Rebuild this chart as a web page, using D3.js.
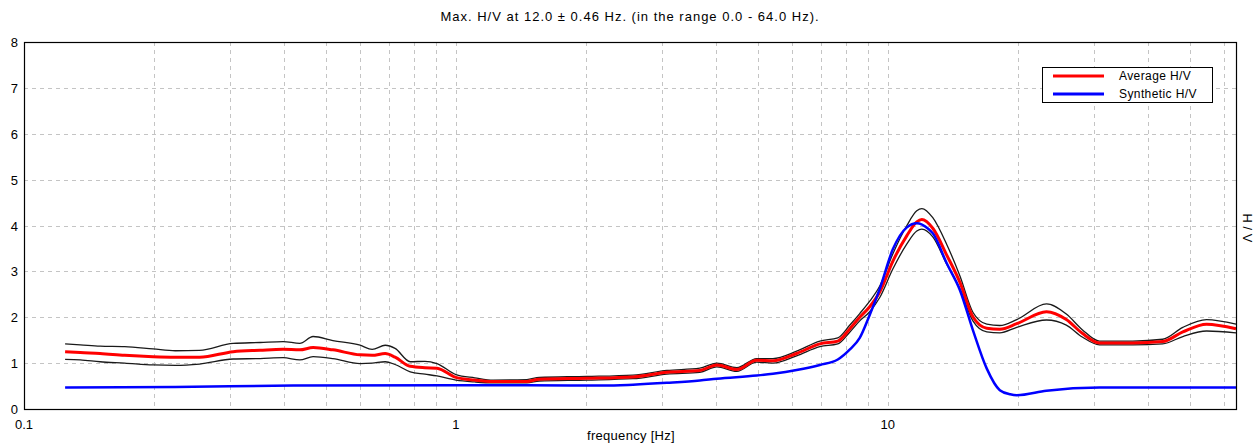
<!DOCTYPE html>
<html>
<head>
<meta charset="utf-8">
<script src="https://cdn.jsdelivr.net/npm/d3@7"></script>
<style>
  html, body { margin: 0; padding: 0; background: #fff; }
  svg { display: block; font-family: "Liberation Sans", Arial, sans-serif; }
</style>
</head>
<body>
<svg id="chart" width="1260" height="446"></svg>
<script>
// H/V spectral ratio curves
const freqs   = [0.1245, 0.135, 0.150, 0.171, 0.199, 0.224, 0.255, 0.305, 0.352, 0.398, 0.435, 0.467, 0.519, 0.600, 0.640, 0.686, 0.723, 0.784, 0.848, 0.904, 1.0, 1.106, 1.22, 1.46, 1.56, 2.01, 2.57, 3.08, 3.67, 4.02, 4.47, 4.97, 5.42, 6.15, 6.96, 7.66, 8.17, 8.61, 9.08, 9.58, 10.27, 11.07, 11.67, 11.99, 12.71, 13.70, 14.69, 15.74, 16.95, 18.17, 19.89, 23.3, 25.9, 28.2, 30.9, 36.9, 43.3, 48.2, 54.7, 64.0];
const avgHV   = [1.25, 1.23, 1.21, 1.17, 1.14, 1.13, 1.13, 1.25, 1.28, 1.30, 1.29, 1.34, 1.29, 1.18, 1.17, 1.21, 1.13, 0.93, 0.90, 0.89, 0.69, 0.63, 0.60, 0.60, 0.65, 0.67, 0.70, 0.80, 0.84, 0.96, 0.86, 1.06, 1.05, 1.21, 1.42, 1.48, 1.75, 2.00, 2.23, 2.55, 3.22, 3.78, 4.08, 4.13, 3.94, 3.35, 2.76, 2.01, 1.76, 1.74, 1.86, 2.12, 1.95, 1.65, 1.44, 1.44, 1.47, 1.68, 1.85, 1.75];
const upperHV = [1.42, 1.40, 1.37, 1.36, 1.31, 1.27, 1.28, 1.43, 1.45, 1.47, 1.43, 1.58, 1.49, 1.39, 1.30, 1.39, 1.32, 1.03, 1.04, 0.99, 0.75, 0.68, 0.63, 0.64, 0.69, 0.71, 0.74, 0.84, 0.89, 1.00, 0.90, 1.10, 1.10, 1.26, 1.48, 1.55, 1.83, 2.08, 2.35, 2.68, 3.38, 4.00, 4.32, 4.37, 4.17, 3.58, 2.90, 2.11, 1.85, 1.82, 1.95, 2.29, 2.07, 1.73, 1.48, 1.48, 1.52, 1.78, 1.95, 1.85];
const lowerHV = [1.08, 1.07, 1.03, 1.00, 0.96, 0.95, 0.98, 1.09, 1.10, 1.12, 1.07, 1.14, 1.10, 0.99, 1.00, 1.03, 0.97, 0.81, 0.76, 0.72, 0.63, 0.59, 0.57, 0.57, 0.61, 0.63, 0.66, 0.76, 0.80, 0.92, 0.82, 1.02, 1.00, 1.16, 1.36, 1.42, 1.68, 1.92, 2.12, 2.43, 3.05, 3.60, 3.88, 3.92, 3.75, 3.15, 2.62, 1.92, 1.68, 1.66, 1.78, 1.94, 1.83, 1.57, 1.40, 1.40, 1.42, 1.58, 1.70, 1.66];

const synthFreqs = [0.1245, 0.224, 0.42, 1.0, 1.46, 2.2, 2.57, 3.08, 3.67, 4.02, 4.97, 5.42, 6.15, 6.96, 7.66, 8.17, 8.61, 9.08, 9.58, 10.27, 11.07, 11.67, 12.4, 12.71, 13.70, 14.69, 15.74, 16.95, 18.17, 19.2, 19.89, 23.3, 30.9, 64.0];
const synthHV    = [0.47, 0.48, 0.51, 0.52, 0.52, 0.51, 0.53, 0.57, 0.62, 0.66, 0.73, 0.77, 0.85, 0.96, 1.08, 1.30, 1.55, 2.05, 2.62, 3.48, 3.96, 4.05, 3.93, 3.83, 3.17, 2.59, 1.72, 0.88, 0.41, 0.32, 0.30, 0.40, 0.47, 0.47];

const yTicks = [0, 1, 2, 3, 4, 5, 6, 7, 8];
const xLabelTicks = [0.1, 1, 10];
const titleText = "Max. H/V at 12.0 \u00b1 0.46 Hz. (in the range 0.0 - 64.0 Hz).";
const legendItems = [
  { label: "Average H/V", color: "#ff0000" },
  { label: "Synthetic H/V", color: "#0000ff" }
];

const svg = d3.select("#chart");
const plotLeft = 24, plotRight = 1236, plotTop = 42, plotBottom = 409;

const x = d3.scaleLog().domain([0.1, 64]).range([plotLeft, plotRight]);
const y = d3.scaleLinear().domain([0, 8]).range([plotBottom, plotTop]);

// grid lines at every log step
const minorFreqs = [];
[0.1, 1, 10].forEach(dec => {
  for (let k = 1; k <= 9; k++) {
    const f = dec * k;
    if (f > 0.1 && f < 64) minorFreqs.push(f);
  }
});

const grid = svg.append("g").attr("stroke", "#c4c4c4").attr("stroke-width", 1)
  .attr("stroke-dasharray", "4,4").attr("shape-rendering", "crispEdges");
grid.selectAll("line.v").data(minorFreqs).join("line").attr("class", "v")
  .attr("x1", d => Math.round(x(d)) + 0.5).attr("x2", d => Math.round(x(d)) + 0.5)
  .attr("y1", plotTop).attr("y2", plotBottom);
grid.selectAll("line.h").data(yTicks.filter(t => t > 0 && t < 8)).join("line").attr("class", "h")
  .attr("x1", plotLeft).attr("x2", plotRight)
  .attr("y1", d => Math.round(y(d)) + 0.5).attr("y2", d => Math.round(y(d)) + 0.5);

// curves
const line = d3.line().x(d => x(d[0])).y(d => y(d[1])).curve(d3.curveMonotoneX);
const zipWith = (fs, vs) => fs.map((f, i) => [f, vs[i]]);

const plot = svg.append("g");
plot.append("path").datum(zipWith(freqs, upperHV)).attr("d", line)
  .attr("fill", "none").attr("stroke", "#1a1a1a").attr("stroke-width", 1.3);
plot.append("path").datum(zipWith(freqs, lowerHV)).attr("d", line)
  .attr("fill", "none").attr("stroke", "#1a1a1a").attr("stroke-width", 1.3);
plot.append("path").datum(zipWith(freqs, avgHV)).attr("d", line)
  .attr("fill", "none").attr("stroke", "#ff0000").attr("stroke-width", 3);
plot.append("path").datum(zipWith(synthFreqs, synthHV)).attr("d", line)
  .attr("fill", "none").attr("stroke", "#0000ff").attr("stroke-width", 2.5);

// frame
svg.append("rect").attr("x", plotLeft + 0.5).attr("y", plotTop + 0.5)
  .attr("width", plotRight - plotLeft).attr("height", plotBottom - plotTop)
  .attr("fill", "none").attr("stroke", "#000").attr("stroke-width", 1.2);

// y tick labels
svg.append("g").selectAll("text").data(yTicks).join("text")
  .attr("x", 18).attr("y", d => y(d) + 5)
  .attr("text-anchor", "end").attr("font-size", 13).attr("fill", "#000")
  .text(d => d);

// x tick labels
svg.append("g").selectAll("text").data(xLabelTicks).join("text")
  .attr("x", d => x(d)).attr("y", 429)
  .attr("text-anchor", "middle").attr("font-size", 13).attr("fill", "#000")
  .text(d => d);

// axis titles
svg.append("text").attr("x", 631).attr("y", 440).attr("text-anchor", "middle")
  .attr("font-size", 13).attr("letter-spacing", 0.3).text("frequency [Hz]");
svg.append("text").attr("transform", "translate(1243,228) rotate(90)")
  .attr("text-anchor", "middle").attr("font-size", 13).text("H / V");

// title
svg.append("text").attr("x", 630).attr("y", 21).attr("text-anchor", "middle")
  .attr("font-size", 13).attr("letter-spacing", 1).text(titleText);

// legend
const lg = svg.append("g").attr("transform", "translate(1042,67)");
lg.append("rect").attr("x", 0.5).attr("y", 0.5).attr("width", 170).attr("height", 35)
  .attr("fill", "#fff").attr("stroke", "#000").attr("stroke-width", 1);
legendItems.forEach((it, i) => {
  const yy = 9 + i * 18;
  lg.append("line").attr("x1", 11).attr("x2", 62).attr("y1", yy).attr("y2", yy)
    .attr("stroke", it.color).attr("stroke-width", 3);
  lg.append("text").attr("x", 77).attr("y", yy + 4).attr("font-size", 12)
    .attr("letter-spacing", 0.4).text(it.label);
});
</script>
</body>
</html>
